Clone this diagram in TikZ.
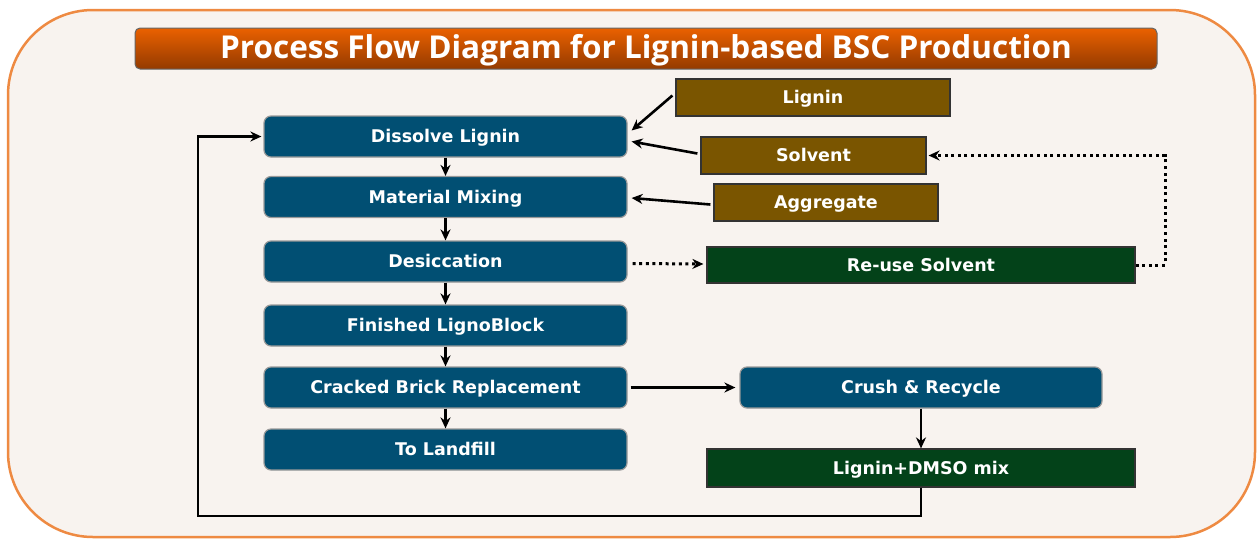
\documentclass[tikz,border=0pt]{standalone}
\usepackage{fontspec}
\setmainfont{DejaVu Sans}
\newfontfamily\titlefont{Open Sans}
\usetikzlibrary{arrows.meta,calc}
\definecolor{bgc}{HTML}{F8F3EF}
\definecolor{framec}{HTML}{EE8A42}
\definecolor{bluec}{HTML}{014F73}
\definecolor{brownc}{HTML}{7A5500}
\definecolor{greenc}{HTML}{034219}
\definecolor{titletop}{HTML}{EA6100}
\definecolor{titlebot}{HTML}{943A00}
\tikzset{
  boxfont/.style={font=\bfseries\fontsize{17.5}{20}\selectfont, text height=15pt, text depth=2.2pt},
  bluebox/.style={draw=black!40, line width=1.2pt, fill=bluec, rounded corners=7pt, text=white, boxfont, inner sep=0pt},
  brownbox/.style={draw=black!80, line width=1.2pt, fill=brownc, text=white, boxfont, inner sep=0pt},
  greenbox/.style={draw=black!80, line width=1.2pt, fill=greenc, text=white, boxfont, inner sep=0pt},
  conn/.style={line width=2.6pt, -{Stealth[length=11pt,width=10pt]}},
  dotconn/.style={line width=3pt, dash pattern=on 3pt off 3.6pt, -{Stealth[length=11pt,width=10pt]}},
}
\begin{document}
\begin{tikzpicture}[x=1pt,y=-1pt]
\useasboundingbox (0,0) rectangle (1259,539);
\draw[framec, line width=2.5pt, fill=bgc, rounded corners=85pt] (8,10) rectangle (1255,537);
\shade[top color=titletop, bottom color=titlebot, rounded corners=5pt, draw=black!60, line width=1pt] (135,28) rectangle (1157,69);
\node[text=white, font=\titlefont\bfseries\fontsize{31.5}{36}\selectfont] (title) at (646,50) {Process Flow Diagram for Lignin-based BSC Production};

\node[bluebox, minimum width=363pt, minimum height=41pt] (dis) at (445.5,136.5) {Dissolve Lignin};
\node[bluebox, minimum width=363pt, minimum height=41pt] (mix) at (445.5,197) {Material Mixing};
\node[bluebox, minimum width=363pt, minimum height=41pt] (des) at (445.5,261.5) {Desiccation};
\node[bluebox, minimum width=363pt, minimum height=41pt] (fin) at (445.5,325.5) {Finished LignoBlock};
\node[bluebox, minimum width=363pt, minimum height=41pt] (cra) at (445.5,387.5) {Cracked Brick Replacement};
\node[bluebox, minimum width=363pt, minimum height=41pt] (lan) at (445.5,449.5) {To Landfill};
\node[bluebox, minimum width=362pt, minimum height=41pt] (cru) at (921,387.5) {Crush \& Recycle};

\node[brownbox, minimum width=274pt, minimum height=37pt] (lig) at (813,97.5) {Lignin};
\node[brownbox, minimum width=225pt, minimum height=37pt] (sol) at (813.5,155.5) {Solvent};
\node[brownbox, minimum width=224pt, minimum height=37pt] (agg) at (826,202.5) {Aggregate};
\node[greenbox, minimum width=428pt, minimum height=36pt] (reu) at (921,265) {Re-use Solvent};
\node[greenbox, minimum width=428pt, minimum height=38pt] (dms) at (921,468) {Lignin+DMSO mix};

\draw[conn] (dis.south) -- (mix.north);
\draw[conn] (mix.south) -- (des.north);
\draw[conn] (des.south) -- (fin.north);
\draw[conn] (fin.south) -- (cra.north);
\draw[conn] (cra.south) -- (lan.north);

\draw[conn] ($(lig.west)+(-3,-2)$) -- ($(dis.east)+(4,-6)$);
\draw[conn] ($(sol.west)+(-3,-2)$) -- ($(dis.east)+(4,5)$);
\draw[conn] ($(agg.west)+(-3,2)$) -- ($(mix.east)+(4,1)$);

\draw[dotconn] ($(des.east)+(5,2)$) -- ($(reu.west)+(-3,-1)$);
\coordinate (r1) at (1165,265);
\coordinate (r2) at (1165,155.5);
\draw[dotconn] (reu.east) -- (r1) -- (r2) -- ($(sol.east)+(2,0)$);

\draw[conn] ($(cra.east)+(3,0)$) -- ($(cru.west)+(-4,0)$);
\draw[conn] (cru.south) -- (dms.north);

\coordinate (b1) at (921,516);
\coordinate (b2) at (198,516);
\draw[conn] (dms.south) -- (b1) -- (b2) |- ($(dis.west)+(-2,0)$);
\end{tikzpicture}
\end{document}
